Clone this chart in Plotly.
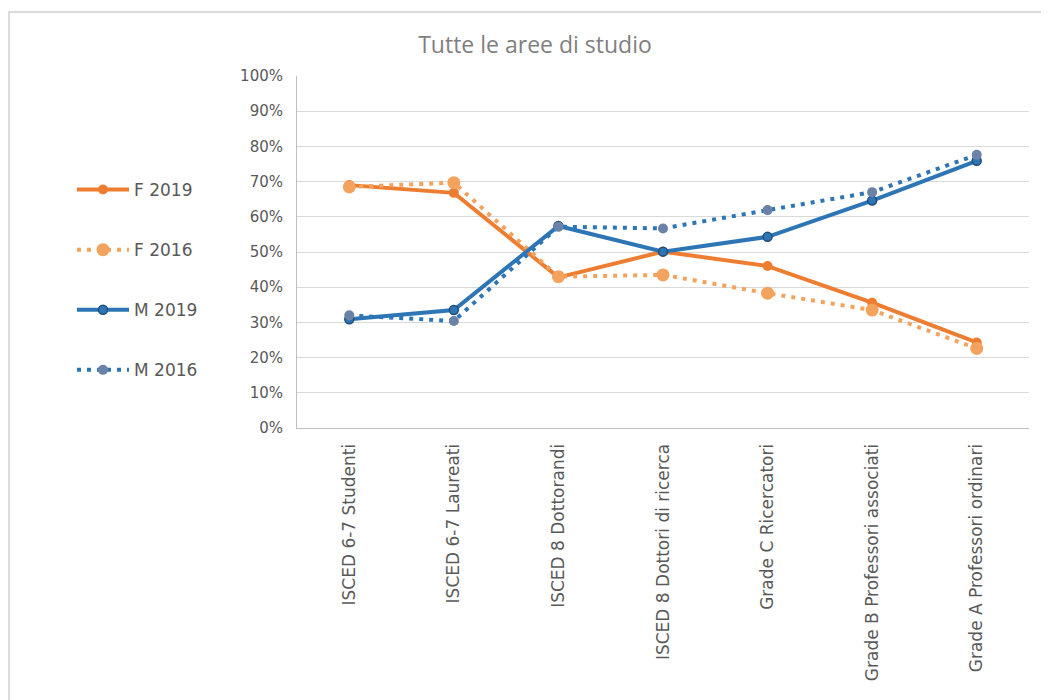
import plotly.graph_objects as go

categories = [
    "ISCED 6-7 Studenti",
    "ISCED 6-7 Laureati",
    "ISCED 8 Dottorandi",
    "ISCED 8 Dottori di ricerca",
    "Grade C Ricercatori",
    "Grade B Professori associati",
    "Grade A Professori ordinari",
]
f_2019 = [0.690, 0.668, 0.428, 0.501, 0.460, 0.356, 0.243]
f_2016 = [0.685, 0.697, 0.430, 0.435, 0.383, 0.335, 0.226]
m_2019 = [0.309, 0.335, 0.574, 0.501, 0.543, 0.646, 0.759]
m_2016 = [0.320, 0.304, 0.572, 0.567, 0.619, 0.670, 0.776]
y_ticks = [i / 10 for i in range(11)]

OFF = 8  # page body margin
W, H = 1049, 700
L, R, T, B = 297 - OFF, W - (1029 - OFF), 76 - OFF, H - (428 - OFF)
pw, ph = W - L - R, H - T - B


def px_x(p):  # screenshot x -> paper
    return (p - OFF - L) / pw


def px_y(p):  # screenshot y -> paper
    return (H - B - (p - OFF)) / ph


FONT = "DejaVu Sans"
GRAY = "#595959"

fig = go.Figure()
fig.add_trace(go.Scatter(
    x=categories, y=f_2019, name="F 2019", mode="lines+markers",
    line=dict(color="#ED7D31", width=4),
    marker=dict(color="#ED7D31", size=10), legendgroup="a"))
fig.add_trace(go.Scatter(
    x=categories, y=f_2016, name="F 2016", mode="lines+markers",
    line=dict(color="#F4A35F", width=4, dash="4px,6px"),
    marker=dict(color="#F4A35F", size=13), legendgroup="b"))
fig.add_trace(go.Scatter(
    x=categories, y=m_2019, name="M 2019", mode="lines+markers",
    line=dict(color="#2E75B6", width=4),
    marker=dict(color="#2E75B6", size=9, line=dict(color="#1F4E79", width=1.5)),
    legendgroup="c"))
fig.add_trace(go.Scatter(
    x=categories, y=m_2016, name="M 2016", mode="lines+markers",
    line=dict(color="#2E75B6", width=4, dash="4px,6px"),
    marker=dict(color="#6A82A8", size=10), legendgroup="d"))

fig.update_layout(
    width=W, height=H,
    margin=dict(l=L, r=R, t=T, b=B),
    paper_bgcolor="white", plot_bgcolor="white",
    font=dict(family=FONT, color=GRAY),
    title=dict(text="Tutte le aree di studio", x=px_x(535), xref="paper",
               xanchor="center", y=1 - (45 - OFF) / H, yref="container",
               yanchor="middle",
               font=dict(size=23, color="#7f7f7f", family="Open Sans")),
    showlegend=True,
    legend=dict(x=px_x(72), y=px_y(172), xanchor="left", yanchor="top",
                xref="paper", yref="paper",
                traceorder="grouped", tracegroupgap=35, itemwidth=52,
                font=dict(size=17, color=GRAY, family=FONT)),
    xaxis=dict(type="category", categoryorder="array", categoryarray=categories,
               range=[-0.5, len(categories) - 0.5],
               tickangle=-90, tickfont=dict(size=17, color=GRAY, family=FONT),
               showline=True, linecolor="#bfbfbf", linewidth=1,
               showgrid=False, ticks="", ticklabelstandoff=8),
    yaxis=dict(range=[0, 1], tickvals=y_ticks, tickformat=".0%",
               tickfont=dict(size=15, color=GRAY, family=FONT),
               showline=True, linecolor="#bfbfbf", linewidth=1,
               showgrid=True, gridcolor="#d9d9d9", gridwidth=1,
               zeroline=False, ticks="", ticklabelstandoff=10),
    shapes=[dict(type="rect", xref="paper", yref="paper",
                 x0=px_x(9), x1=px_x(1070), y0=px_y(720), y1=px_y(12),
                 line=dict(color="#d0d0d0", width=1.5), fillcolor="rgba(0,0,0,0)",
                 layer="below")],
)

fig.write_html("out.html")
